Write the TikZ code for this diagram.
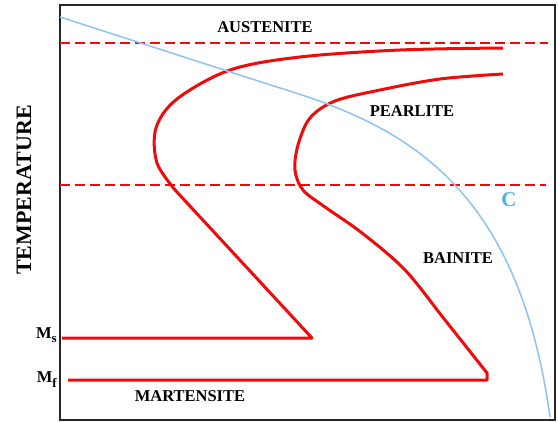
\documentclass[tikz,border=0pt]{standalone}
\usepackage{fontspec}
\setmainfont{Liberation Serif}
\definecolor{ttred}{RGB}{240,10,10}
\definecolor{coolblue}{RGB}{140,195,242}
\definecolor{clabel}{RGB}{70,178,230}
\begin{document}
\begin{tikzpicture}[x=1pt, y=-1pt,
  phase/.style={font=\fontsize{16.5}{17}\selectfont\bfseries, inner sep=0pt},
  curve/.style={ttred, line width=3pt, line join=round},
  limit/.style={ttred, line width=2.5pt, dash pattern=on 10pt off 5pt}]
\useasboundingbox (0,0) rectangle (558,423);
\fill[white] (0,0) rectangle (558,423);
\draw[black!85, line width=1.5pt] (60,5) rectangle (555,420);
\draw[limit] (60,43) -- (548,43);
\draw[limit] (60,185) -- (546,185);
\draw[curve] plot[smooth, tension=0.55] coordinates {(503,48) (400,50) (300,57) (230,70) (177,99) (156,128) (157,163) (176,191)} -- (312,338) -- (62,338);
\draw[curve] plot[smooth, tension=0.55] coordinates {(503,74) (440,79) (380,90) (335,101) (310,118) (298,145) (295,170) (303,190) (325,207) (362,233) (405,270) (445,320) (487,373)} -- (487,380) -- (68,380);
\draw[coolblue, line width=1.5pt] (60,17) -- (280,88) .. controls (405,126) and (518,185) .. (550,417);
\node[phase] (austenite) at (265,27) {AUSTENITE};
\node[phase] (pearlite) at (412,111) {PEARLITE};
\node[phase] (bainite) at (458,258) {BAINITE};
\node[phase] (martensite) at (190,396) {MARTENSITE};
\node[phase, text=clabel, font=\fontsize{21}{21}\selectfont\bfseries] (c) at (509,200) {C};
\node[phase, font=\fontsize{22}{22}\selectfont\bfseries, rotate=90] (temp) at (24,190) {TEMPERATURE};
\node[phase, anchor=base east] (ms) at (57,338) {M\raisebox{-4pt}{\fontsize{13}{13}\selectfont s}};
\node[phase, anchor=base east] (mf) at (57,382) {M\raisebox{-5pt}{\fontsize{13}{13}\selectfont f}};
\end{tikzpicture}
\end{document}
